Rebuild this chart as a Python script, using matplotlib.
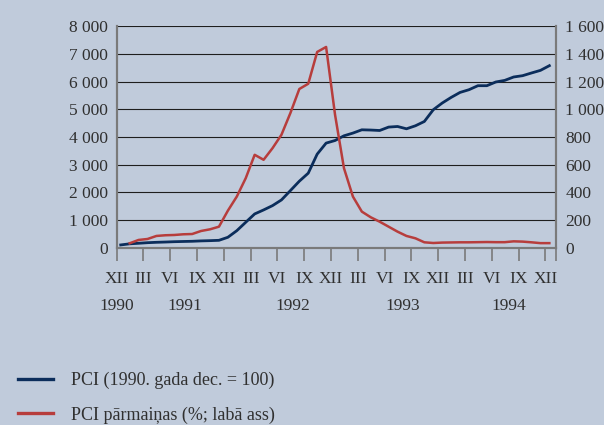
import matplotlib
matplotlib.use("Agg")
import matplotlib.pyplot as plt
import matplotlib.transforms as mtransforms
from matplotlib.lines import Line2D
import numpy as np

# ---- data (monthly, Dec 1990 .. Dec 1994) ----
PCI = [100, 140, 160, 181, 195, 205, 217, 225, 232, 246, 255, 267,
       377, 616, 920, 1221, 1366, 1522, 1728, 2065, 2405, 2696, 3384, 3783,
       3877, 4047, 4145, 4264, 4255, 4239, 4362, 4384, 4300, 4409, 4565, 4989,
       5232, 5435, 5616, 5714, 5859, 5859, 5993, 6051, 6174, 6221, 6319, 6413, 6583]
# percent change, first month has no value
PCI_CHANGE = [np.nan, 32, 56, 63, 85, 90, 92, 97, 99, 121, 133, 152,
              268, 370, 503, 672, 636, 720, 817, 974, 1148, 1186, 1416, 1452,
              962, 575, 370, 261, 220, 188, 152, 116, 85, 68, 39, 34,
              37, 38, 39, 39, 40, 41, 40, 40, 46, 44, 39, 33, 33]
TICK_LABELS = ["XII", "III", "VI", "IX"] * 4 + ["XII"]
YEARS = ["1990", "1991", "1992", "1993", "1994"]
YEAR_POS = [0, 7.6, 19.7, 32.0, 43.9]
LABELS = ["PCI (1990. gada dec. = 100)", "PCI pārmaiņas (%; labā ass)"]

BG = "#c0cbdb"
BLUE = "#0b2d5b"
RED = "#b73d3c"
TXT = "#303030"
SPINE = "#7a7a7a"
FS = 12.5

plt.rcParams["font.family"] = ["Liberation Serif", "DejaVu Serif"]

fig = plt.figure(figsize=(6.04, 4.25), dpi=100, facecolor=BG)
ax = fig.add_axes([116.7 / 604, 1 - 247.7 / 425, 439 / 604, 221.2 / 425])
ax.set_facecolor(BG)
ax2 = ax.twinx()

x = np.arange(len(PCI)) + 0.45
ax.plot(x, PCI, color=BLUE, lw=2.0, zorder=3)
ax2.plot(x, PCI_CHANGE, color=RED, lw=1.8, zorder=3)

ax.set_xlim(0, 49.16)
ax.set_ylim(0, 8000)
ax2.set_ylim(0, 1600)
ax.set_yticks(np.arange(0, 8001, 1000))
ax2.set_yticks(np.arange(0, 1601, 200))
fmt = lambda v: f"{v:,.0f}".replace(",", " ")
ax.set_yticklabels([fmt(v) for v in ax.get_yticks()])
ax2.set_yticklabels([fmt(v) for v in ax2.get_yticks()])

for yv in np.arange(1000, 8001, 1000):
    ax.axhline(yv, color="#1e1e1e", lw=0.8, zorder=1)

xt = list(np.arange(0, 49, 3))
ax.set_xticks(xt + [49.16])
ax.set_xticklabels(TICK_LABELS + [""])
ax.tick_params(axis="x", direction="out", length=9, width=1.2, color=SPINE,
               pad=8, labelsize=FS, labelcolor=TXT)
ax.tick_params(axis="y", length=0, pad=6, labelsize=FS, labelcolor=TXT)
ax2.tick_params(axis="y", length=0, pad=7, labelsize=FS, labelcolor=TXT)

for a in (ax, ax2):
    a.spines["top"].set_visible(False)
    for s in ("left", "right", "bottom"):
        a.spines[s].set_color(SPINE)
        a.spines[s].set_linewidth(1.5)

trans = mtransforms.blended_transform_factory(ax.transData, ax.transAxes)
for yr, pos in zip(YEARS, YEAR_POS):
    ax.text(pos, -0.265, yr, transform=trans, ha="center", va="center",
            fontsize=FS, color=TXT)

handles = [Line2D([], [], color=BLUE, lw=2.4), Line2D([], [], color=RED, lw=2.4)]
leg = fig.legend(handles, LABELS, loc="upper left", bbox_to_anchor=(0.03, 0.125),
                 frameon=False, fontsize=13, handlelength=1.95, handletextpad=1.0,
                 labelspacing=0.95, borderaxespad=0, borderpad=0)
for t in leg.get_texts():
    t.set_color(TXT)

fig.savefig("out.png", dpi=100, facecolor=BG)
